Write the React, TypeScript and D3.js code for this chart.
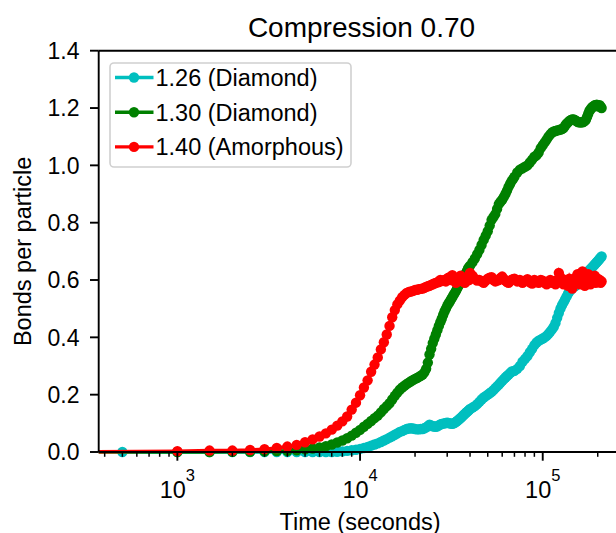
import React from "react";
import * as d3 from "d3";

// sample times (seconds)
const times = [
  250, 500,
  1000, 1500, 2000, 2500, 3000, 3500, 4000, 4500, 5000, 5500, 6000, 6500, 7000, 7500, 8000, 8500, 9000, 9500, 10000,
  10500, 11000, 11500, 12000, 12500, 13000, 13500, 14000, 14500, 15000, 15500, 16000, 16500, 17000, 17500, 18000, 18500, 19000, 19500, 20000,
  20500, 21000, 21500, 22000, 22500, 23000, 23500, 24000, 24500, 25000, 25500, 26000, 26500, 27000, 27500, 28000, 28500, 29000, 29500, 30000,
  30500, 31000, 31500, 32000, 32500, 33000, 33500, 34000, 34500, 35000, 35500, 36000, 36500, 37000, 37500, 38000, 38500, 39000, 39500, 40000,
  41250, 42500, 43750, 45000, 46250, 47500, 48750, 50000, 51250, 52500, 53750, 55000,
  56250, 57500, 58750, 60000, 61250, 62500, 63750, 65000, 66250, 67500, 68750, 70000,
  72500, 75000, 77500, 80000, 82500, 85000, 87500, 90000,
  92500, 95000, 97500, 100000, 102500, 105000, 107500, 110000, 112500, 115000, 117500, 120000, 122500, 125000, 127500, 130000, 132500, 135000, 137500, 140000,
  142500, 145000, 147500, 150000, 152500, 155000, 157500, 160000, 162500, 165000, 167500, 170000, 172500, 175000, 177500, 180000, 182500, 185000, 187500, 190000,
  192500, 195000, 197500, 200000, 202500, 205000, 207500, 210000,
];

const diamond126 = [
  null, 0,
  0, 0, 0, 0, 0, 0, 0, 0, 0, 0, 0, 0, 0, 0.001, 0.002, 0.004, 0.006, 0.008, 0.011,
  0.014, 0.018, 0.022, 0.026, 0.03, 0.035, 0.04, 0.045, 0.05, 0.055, 0.06, 0.065, 0.07, 0.073, 0.077, 0.08, 0.082, 0.083, 0.082, 0.08,
  0.079, 0.079, 0.08, 0.08, 0.083, 0.086, 0.09, 0.095, 0.093, 0.09, 0.089, 0.088, 0.09, 0.093, 0.096, 0.098, 0.099, 0.1, 0.101, 0.102,
  0.101, 0.1, 0.099, 0.098, 0.1, 0.102, 0.105, 0.108, 0.111, 0.115, 0.118, 0.122, 0.126, 0.13, 0.133, 0.137, 0.14, 0.143, 0.146, 0.15,
  0.155, 0.16, 0.167, 0.175, 0.183, 0.19, 0.195, 0.2, 0.205, 0.21, 0.216, 0.223,
  0.229, 0.235, 0.242, 0.248, 0.254, 0.26, 0.265, 0.27, 0.275, 0.28, 0.282, 0.283,
  0.29, 0.3, 0.315, 0.325, 0.335, 0.348, 0.36, 0.373,
  0.382, 0.388, 0.392, 0.396, 0.4, 0.405, 0.412, 0.42, 0.428, 0.437, 0.45, 0.468, 0.485, 0.5, 0.512, 0.522, 0.532, 0.542, 0.552, 0.56,
  0.566, 0.572, 0.576, 0.578, 0.582, 0.586, 0.592, 0.598, 0.605, 0.61, 0.615, 0.618, 0.622, 0.626, 0.63, 0.634, 0.638, 0.642, 0.646, 0.65,
  0.654, 0.658, 0.662, 0.666, 0.67, 0.674, 0.678, 0.682,
];

const diamond130 = [
  0, null,
  0, 0, 0.001, 0.001, 0.002, 0.003, 0.004, 0.006, 0.009, 0.012, 0.016, 0.02, 0.026, 0.033, 0.04, 0.048, 0.057, 0.067, 0.077,
  0.088, 0.098, 0.108, 0.118, 0.127, 0.138, 0.15, 0.16, 0.17, 0.183, 0.196, 0.207, 0.217, 0.225, 0.231, 0.237, 0.242, 0.247, 0.251, 0.255,
  0.258, 0.262, 0.266, 0.27, 0.278, 0.29, 0.312, 0.34, 0.36, 0.38, 0.395, 0.41, 0.425, 0.44, 0.453, 0.465, 0.478, 0.49, 0.5, 0.51,
  0.518, 0.525, 0.533, 0.54, 0.548, 0.555, 0.562, 0.57, 0.578, 0.585, 0.592, 0.6, 0.605, 0.61, 0.618, 0.625, 0.632, 0.64, 0.645, 0.65,
  0.662, 0.675, 0.69, 0.705, 0.722, 0.74, 0.755, 0.77, 0.79, 0.81, 0.82, 0.83,
  0.848, 0.865, 0.873, 0.88, 0.89, 0.9, 0.912, 0.925, 0.935, 0.945, 0.952, 0.96,
  0.975, 0.985, 0.99, 0.995, 1.0, 1.01, 1.02, 1.03,
  1.035, 1.045, 1.06, 1.07, 1.08, 1.09, 1.1, 1.108, 1.115, 1.118, 1.12, 1.122, 1.123, 1.125, 1.127, 1.13, 1.138, 1.145, 1.15, 1.155,
  1.158, 1.16, 1.16, 1.158, 1.155, 1.152, 1.15, 1.15, 1.15, 1.15, 1.152, 1.155, 1.16, 1.17, 1.18, 1.19, 1.195, 1.2, 1.205, 1.205,
  1.21, 1.21, 1.212, 1.21, 1.205, 1.21, 1.205, 1.2,
];

const amorphous140 = [
  0, null,
  0.003, 0.005, 0.005, 0.007, 0.01, 0.014, 0.019, 0.025, 0.034, 0.044, 0.054, 0.065, 0.078, 0.092, 0.107, 0.124, 0.148, 0.172, 0.198,
  0.225, 0.25, 0.28, 0.305, 0.33, 0.358, 0.383, 0.41, 0.44, 0.47, 0.495, 0.515, 0.528, 0.54, 0.548, 0.555, 0.558, 0.56, 0.562, 0.565,
  0.566, 0.568, 0.569, 0.57, 0.573, 0.576, 0.578, 0.58, 0.583, 0.585, 0.588, 0.59, 0.592, 0.593, 0.6, 0.596, 0.598, 0.6, 0.595, 0.605,
  0.608, 0.61, 0.6, 0.617, 0.61, 0.605, 0.59, 0.598, 0.605, 0.6, 0.615, 0.61, 0.595, 0.6, 0.59, 0.595, 0.61, 0.605, 0.6, 0.625,
  0.615, 0.605, 0.598, 0.6, 0.595, 0.59, 0.598, 0.605, 0.608, 0.61, 0.6, 0.595,
  0.598, 0.6, 0.607, 0.612, 0.604, 0.598, 0.593, 0.59, 0.596, 0.6, 0.603, 0.605,
  0.595, 0.6, 0.59, 0.598, 0.603, 0.592, 0.588, 0.6,
  0.595, 0.59, 0.6, 0.598, 0.59, 0.585, 0.595, 0.6, 0.59, 0.595, 0.585, 0.6, 0.625, 0.61, 0.59, 0.585, 0.6, 0.595, 0.58, 0.605,
  0.59, 0.57, 0.6, 0.595, 0.61, 0.62, 0.595, 0.585, 0.6, 0.63, 0.6, 0.58, 0.61, 0.595, 0.62, 0.6, 0.585, 0.61, 0.595, 0.6,
  0.615, 0.59, 0.6, 0.605, 0.595, 0.6, 0.59, 0.595,
];

const seriesLabels = ["1.26 (Diamond)", "1.30 (Diamond)", "1.40 (Amorphous)"];
const seriesColors = ["#00bfbf", "#008000", "#ff0000"];
const seriesValues = [diamond126, diamond130, amorphous140];

const yTicks = [0, 0.2, 0.4, 0.6, 0.8, 1.0, 1.2, 1.4];
const xMajor = [1e3, 1e4, 1e5];

const W = 616;
const H = 533;
const left = 98.7;
const right = 622;
const top = 50.7;
const bottom = 452;
const font = "'Liberation Sans', Arial, sans-serif";
const dotR = 5.2;

export default function App() {
  const x = d3.scaleLog().domain([371, 271600]).range([left, right]);
  const y = d3.scaleLinear().domain([0, 1.4]).range([bottom, top]);
  const xMinor = x.ticks().filter((t) => !xMajor.includes(t));

  const series = seriesValues.map((vals, i) => ({
    color: seriesColors[i],
    label: seriesLabels[i],
    points: times
      .map((t, j) => ({ t, v: vals[j] }))
      .filter((p) => p.v !== null && p.v !== undefined) as { t: number; v: number }[],
  }));

  const line = d3
    .line<{ t: number; v: number }>()
    .x((d) => x(d.t))
    .y((d) => y(d.v));

  return (
    <svg
      width={W}
      height={H}
      style={{ position: "absolute", left: 0, top: 0, background: "#fff" }}
      fontFamily={font}
    >
      <defs>
        <clipPath id="plotclip">
          <rect x={left} y={top - 10} width={right - left} height={bottom - top + 18} />
        </clipPath>
      </defs>

      <g clipPath="url(#plotclip)">
        {series.map((s) => (
          <g key={s.label}>
            <path d={line(s.points) || ""} fill="none" stroke={s.color} strokeWidth={3.4} />
            {s.points.map((p, j) => (
              <circle key={j} cx={x(p.t)} cy={y(p.v)} r={dotR} fill={s.color} />
            ))}
          </g>
        ))}
      </g>

      {/* spines */}
      <line x1={left} x2={left} y1={top} y2={bottom} stroke="#000" strokeWidth={1.9} />
      <line x1={left} x2={right} y1={bottom} y2={bottom} stroke="#000" strokeWidth={1.9} />
      <line x1={left} x2={right} y1={top} y2={top} stroke="#000" strokeWidth={1.9} />
      <line x1={right} x2={right} y1={top} y2={bottom} stroke="#000" strokeWidth={1.9} />

      {/* y axis */}
      {yTicks.map((t) => (
        <g key={t}>
          <line x1={left - 8.7} x2={left} y1={y(t)} y2={y(t)} stroke="#000" strokeWidth={1.9} />
          <text x={79.5} y={y(t)} dy="0.36em" textAnchor="end" fontSize={23}>
            {d3.format(".1f")(t)}
          </text>
        </g>
      ))}
      <text
        transform={`translate(31,${(top + bottom) / 2}) rotate(-90)`}
        textAnchor="middle"
        fontSize={23.5}
      >
        Bonds per particle
      </text>

      {/* x axis */}
      {xMinor.map((t) => (
        <line key={t} x1={x(t)} x2={x(t)} y1={bottom} y2={bottom + 4.8} stroke="#000" strokeWidth={1.5} />
      ))}
      {xMajor.map((t) => (
        <g key={t}>
          <line x1={x(t)} x2={x(t)} y1={bottom} y2={bottom + 8.7} stroke="#000" strokeWidth={1.9} />
          <text x={x(t)} y={498.3} textAnchor="middle" fontSize={23.5}>
            <tspan>10</tspan>
            <tspan dy={-17} fontSize={16.5}>
              {Math.round(Math.log10(t))}
            </tspan>
          </text>
        </g>
      ))}
      <text x={360} y={529.5} textAnchor="middle" fontSize={23.5}>
        Time (seconds)
      </text>

      {/* title */}
      <text x={361.5} y={36.5} textAnchor="middle" fontSize={28}>
        Compression 0.70
      </text>

      {/* legend */}
      <rect x={110} y={63} width={241} height={104} rx={4} fill="#fff" fillOpacity={0.8} stroke="#d0d0d0" strokeWidth={1.6} />
      {series.map((s, i) => {
        const ly = 77.5 + i * 34.7;
        return (
          <g key={s.label}>
            <line x1={115} x2={153.5} y1={ly} y2={ly} stroke={s.color} strokeWidth={3.4} />
            <circle cx={134} cy={ly} r={dotR} fill={s.color} />
            <text x={155.5} y={ly} dy="0.36em" fontSize={23.5}>
              {s.label}
            </text>
          </g>
        );
      })}
    </svg>
  );
}
